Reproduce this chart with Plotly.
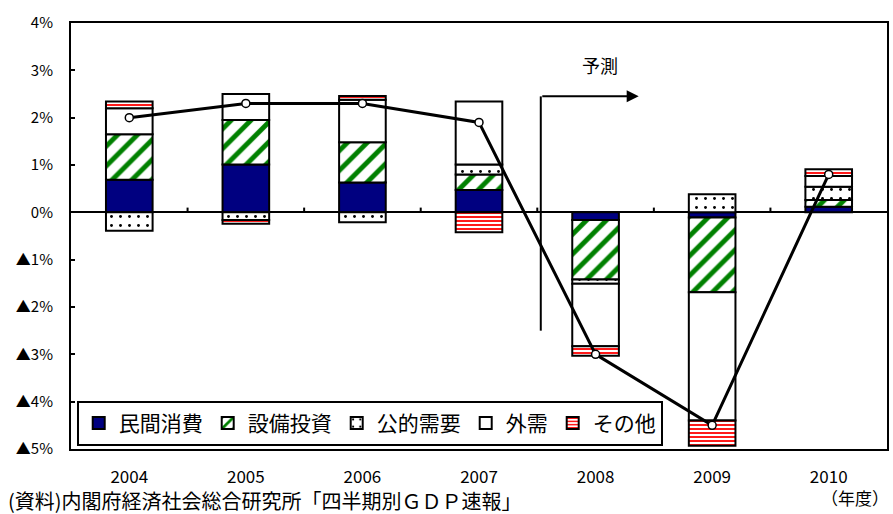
import plotly.graph_objects as go

# Fiscal years
years = ["2004", "2005", "2006", "2007", "2008", "2009", "2010"]

# Contributions to real GDP growth (percentage points)
private_consumption = [0.69, 1.01, 0.63, 0.47, -0.16, -0.11, 0.12]
capital_investment = [0.96, 0.94, 0.85, 0.33, -1.26, -1.58, 0.14]
public_demand = [-0.39, -0.16, -0.21, 0.21, -0.09, 0.38, 0.28]
net_exports = [0.55, 0.55, 0.90, 1.33, -1.32, -2.71, 0.23]
others = [0.14, -0.08, 0.08, -0.42, -0.20, -0.53, 0.14]

# Real GDP growth rate (%)
gdp_growth = [2.0, 2.3, 2.3, 1.9, -3.0, -4.5, 0.8]

# Vertical placement of the growth-rate labels
label_y = [2.87, 2.97, 3.02, 2.80, 1.03, 1.03, 1.41]

y_ticks = [4, 3, 2, 1, 0, -1, -2, -3, -4, -5]

FONT = "Noto Sans CJK JP"


def pct_label(v, digits=1):
    s = f"{abs(v):.{digits}f}%"
    return s if v >= 0 else "▲" + s


fig = go.Figure()

bar_specs = [
    ("民間消費", private_consumption, dict(color="#000080")),
    ("設備投資", capital_investment,
     dict(color="white", pattern=dict(shape="/", fgcolor="#008000", bgcolor="white",
                                      fgopacity=1, size=14, solidity=0.35))),
    ("公的需要", public_demand,
     dict(color="white", pattern=dict(shape=".", fgcolor="black", bgcolor="white",
                                      fgopacity=1, size=9, solidity=0.08))),
    ("外需", net_exports, dict(color="white")),
    ("その他", others,
     dict(color="white", pattern=dict(shape="-", fgcolor="#ff0000", bgcolor="white",
                                      fgopacity=1, size=4, solidity=0.45))),
]

for name, vals, marker in bar_specs:
    marker = dict(marker)
    marker["line"] = dict(color="black", width=2)
    fig.add_trace(go.Bar(name=name, x=years, y=vals, width=0.4, marker=marker))

fig.add_trace(go.Scatter(
    x=years, y=gdp_growth, mode="lines+markers", showlegend=False,
    line=dict(color="black", width=3),
    marker=dict(symbol="circle", size=8, color="white", line=dict(color="black", width=1.5)),
))

annotations = []
for yr, v, ly in zip(years, gdp_growth, label_y):
    annotations.append(dict(x=yr, y=ly, xref="x", yref="y", text=pct_label(v),
                            showarrow=False, font=dict(family=FONT, size=15, color="black")))

# Forecast marker: vertical divider with arrow to the right
annotations.append(dict(x=4.37, y=2.45, ax=3.53, ay=2.45, xref="x", yref="y",
                        axref="x", ayref="y", text="", showarrow=True,
                        arrowhead=2, arrowsize=1.2, arrowwidth=2, arrowcolor="black"))
annotations.append(dict(x=4.04, y=3.12, xref="x", yref="y", text="予測", showarrow=False,
                        font=dict(family=FONT, size=18, color="black")))

# Source note and unit
annotations.append(dict(x=0, y=0, xref="paper", yref="paper", xanchor="left", yanchor="bottom",
                        text="(資料)内閣府経済社会総合研究所「四半期別ＧＤＰ速報」",
                        showarrow=False, font=dict(family=FONT, size=20, color="black"),
                        xshift=-71 + 6, yshift=-65 - 3))
annotations.append(dict(x=1, y=0, xref="paper", yref="paper", xanchor="right", yanchor="bottom",
                        text="（年度）", showarrow=False,
                        font=dict(family=FONT, size=17, color="black"),
                        xshift=4, yshift=-65 + 2))

shapes = [dict(type="line", xref="x", yref="y", x0=3.53, x1=3.53, y0=2.45, y1=-2.5,
               line=dict(color="black", width=2))]
# Small ticks on the zero line at category boundaries
for k in range(len(years) - 1):
    shapes.append(dict(type="line", xref="x", yref="y", x0=k + 0.5, x1=k + 0.5,
                       y0=0, y1=0.1, line=dict(color="black", width=2)))

fig.update_layout(
    width=893, height=514,
    margin=dict(l=71, r=4, t=23, b=65),
    paper_bgcolor="white", plot_bgcolor="white",
    barmode="relative",
    font=dict(family=FONT, color="black"),
    annotations=annotations,
    shapes=shapes,
    legend=dict(orientation="h", x=0.007, y=0.113, xanchor="left", yanchor="top",
                bgcolor="white", bordercolor="black", borderwidth=2,
                font=dict(family=FONT, size=21, color="black"),
                traceorder="normal"),
    xaxis=dict(range=[-0.5, 6.5], showgrid=False, ticks="", showline=True, mirror=True,
               linecolor="black", linewidth=2, ticklabelstandoff=12,
               tickfont=dict(family=FONT, size=17, color="black")),
    yaxis=dict(range=[-5, 4], tickvals=y_ticks,
               ticktext=[pct_label(v, 0) for v in y_ticks],
               showgrid=False, ticks="inside", ticklen=4, tickwidth=2, tickcolor="black",
               showline=True, mirror=True, linecolor="black", linewidth=2,
               zeroline=True, zerolinecolor="black", zerolinewidth=2,
               ticklabelstandoff=13,
               tickfont=dict(family=FONT, size=15, color="black")),
)

fig.write_html("out.html")
